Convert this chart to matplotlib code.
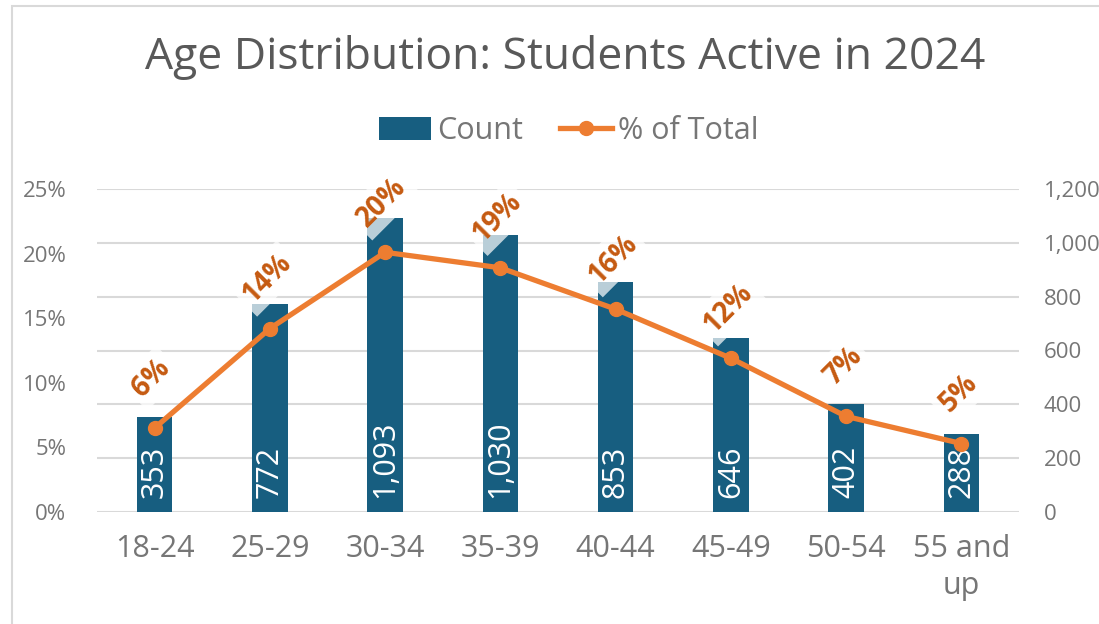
import matplotlib.pyplot as plt
from matplotlib.patches import Patch, Rectangle
from matplotlib.lines import Line2D
from matplotlib.ticker import FuncFormatter, MultipleLocator

# data
age_groups = ["18-24", "25-29", "30-34", "35-39", "40-44", "45-49", "50-54", "55 and\nup"]
counts = [353, 772, 1093, 1030, 853, 646, 402, 288]
pct_total = [6.5, 14.2, 20.1, 18.9, 15.7, 11.9, 7.4, 5.3]
pct_labels = ["6%", "14%", "20%", "19%", "16%", "12%", "7%", "5%"]

BAR = "#175E80"
LINE = "#ED7D31"
LABEL = "#C55A11"
GRID = "#D9D9D9"
TXT = "#767676"

plt.rcParams["font.family"] = ["Open Sans", "DejaVu Sans"]

fig = plt.figure(figsize=(10.99, 6.24), dpi=100)
W, H = 1099, 624
ax = fig.add_axes([97 / W, 1 - 512 / H, (1019 - 97) / W, (512 - 189) / H])
ax2 = ax.twinx()

x = list(range(len(age_groups)))

# bars live on the count axis (drawn on the right)
ax.bar(x, counts, width=0.31, color=BAR, zorder=2)
ax.set_ylim(0, 1200)
ax.yaxis.set_major_locator(MultipleLocator(200))
ax.yaxis.set_major_formatter(FuncFormatter(lambda v, p: f"{int(v):,}"))
ax.yaxis.tick_right()
ax.grid(axis="y", color=GRID, linewidth=1.5, zorder=0)
ax.set_axisbelow(True)
ax.set_xlim(-0.5, len(age_groups) - 0.5)
ax.set_xticks(x)
ax.set_xticklabels(age_groups, fontsize=22, color=TXT, linespacing=1.3)
ax.tick_params(axis="x", length=0, pad=16)
ax.tick_params(axis="y", length=0, pad=18, labelsize=16, labelcolor=TXT)

for i, c in enumerate(counts):
    ax.annotate(f"{c:,}", (i, 0), xytext=(0, 14), textcoords="offset pixels",
                rotation=90, ha="center", va="bottom", color="white", fontsize=22,
                zorder=3)

# percentage line on the left axis
ax2.plot(x, pct_total, color=LINE, linewidth=3.8, marker="o", markersize=10,
         solid_capstyle="round", zorder=4)
ax2.set_ylim(0, 25)
ax2.yaxis.set_major_locator(MultipleLocator(5))
ax2.yaxis.set_major_formatter(FuncFormatter(lambda v, p: f"{int(v)}%"))
ax2.yaxis.tick_left()
ax2.tick_params(axis="y", length=0, pad=22, labelsize=16, labelcolor=TXT)

for i, (v, lab) in enumerate(zip(pct_total, pct_labels)):
    ax2.annotate(lab, (i, v), xytext=(-3, 50), textcoords="offset pixels",
                 rotation=45, rotation_mode="anchor", ha="center", va="center",
                 color=LABEL, fontsize=20, fontweight="bold", zorder=5,
                 bbox=dict(boxstyle="square,pad=0.2", fc="white", ec="none", alpha=0.7))

for a in (ax, ax2):
    for s in a.spines.values():
        s.set_visible(False)

fig.suptitle("Age Distribution: Students Active in 2024", x=565 / W, y=1 - 58 / H,
             va="center", fontsize=32, color="#595959")

handles = [Patch(facecolor=BAR, edgecolor="none"),
           Line2D([0], [0], color=LINE, linewidth=3.8, marker="o", markersize=10)]
fig.legend(handles, ["Count", "% of Total"], loc="center", bbox_to_anchor=(569 / W, 1 - 131 / H),
           ncol=2, frameon=False, fontsize=22, labelcolor=TXT, handlelength=1.7,
           handleheight=0.8, handletextpad=0.2, columnspacing=1.2)

# chart frame (only top and left edges visible in the crop)
fig.patches.append(Rectangle((12 / W, -0.2), 1.2, 1.2 - 6 / H, transform=fig.transFigure,
                             fill=False, edgecolor=GRID, linewidth=1.5))

fig.savefig("out.png", dpi=100)
